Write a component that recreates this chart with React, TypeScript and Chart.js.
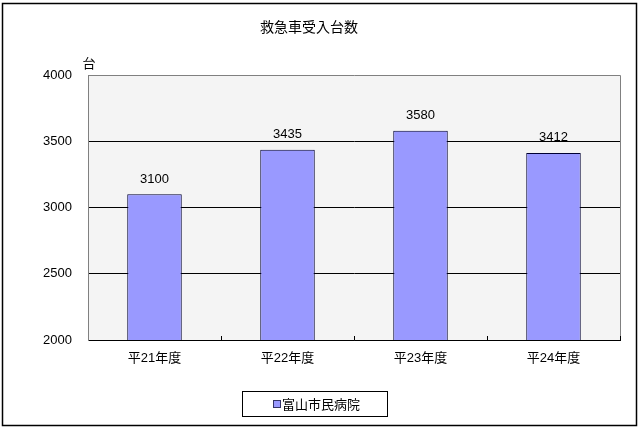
import React, { useEffect, useRef } from "react";
import { Chart, registerables } from "chart.js";

Chart.register(...registerables);

// data
const categories = ["平21年度", "平22年度", "平23年度", "平24年度"];
const seriesName = "富山市民病院";
const acceptedCounts = [3100, 3435, 3580, 3412];
const chartTitle = "救急車受入台数";
const unitLabel = "台";

const FONT = "'Liberation Sans', 'Noto Sans CJK JP', sans-serif";
const JP_FONT = "'Noto Sans CJK JP', sans-serif";
const BAR_COLOR = "#9999FF";
const PLOT_BG = "#F4F4F4";

// extra drawing that Chart.js does not do on its own (frame, plot bg, labels, legend box)
const excelLook = {
  id: "excelLook",
  beforeDraw(chart: Chart) {
    const { ctx, chartArea: a, width, height } = chart;
    ctx.save();
    ctx.fillStyle = "#fff";
    ctx.fillRect(0, 0, width, height);
    ctx.fillStyle = PLOT_BG;
    ctx.fillRect(a.left, a.top, a.right - a.left, a.bottom - a.top);
    ctx.restore();
  },
  afterDatasetsDraw(chart: Chart) {
    const { ctx, chartArea: a } = chart;
    const meta = chart.getDatasetMeta(0);
    ctx.save();

    // gray frame on top and right of the plot
    ctx.strokeStyle = "#808080";
    ctx.lineWidth = 1;
    ctx.beginPath();
    ctx.moveTo(a.left, a.top + 0.5);
    ctx.lineTo(a.right + 0.5, a.top + 0.5);
    ctx.lineTo(a.right + 0.5, a.bottom);
    ctx.stroke();

    // small inward ticks between categories
    const xs = chart.scales.x;
    const step = (a.right - a.left) / categories.length;
    ctx.strokeStyle = "#000";
    ctx.beginPath();
    for (let i = 0; i < categories.length; i++) {
      const x = Math.round(xs.getPixelForTick(i) + step / 2) + 0.5;
      ctx.moveTo(x, a.bottom - 4);
      ctx.lineTo(x, a.bottom);
    }
    ctx.stroke();

    // value labels above bars
    ctx.fillStyle = "#000";
    ctx.font = `13px ${FONT}`;
    ctx.textAlign = "center";
    ctx.textBaseline = "middle";
    meta.data.forEach((bar: any, i: number) => {
      ctx.fillText(String(acceptedCounts[i]), bar.x, bar.y - 15);
    });
    ctx.restore();
  },
  afterDraw(chart: Chart) {
    const { ctx, chartArea: a } = chart;
    ctx.save();

    // outer frame
    ctx.strokeStyle = "#000";
    ctx.lineWidth = 1.5;
    ctx.strokeRect(2.5, 3.5, 634, 422);

    // title and unit
    ctx.fillStyle = "#000";
    ctx.textAlign = "center";
    ctx.textBaseline = "middle";
    ctx.font = `14px ${JP_FONT}`;
    ctx.fillText(chartTitle, 309, 27);
    ctx.font = `13px ${JP_FONT}`;
    ctx.fillText(unitLabel, a.left + 1, 63);

    // legend box
    ctx.lineWidth = 1;
    ctx.strokeRect(242.5, 391.5, 145, 25);
    ctx.fillStyle = BAR_COLOR;
    ctx.fillRect(273, 400, 7, 7);
    ctx.strokeStyle = "#333366";
    ctx.strokeRect(273.5, 400.5, 7, 7);
    ctx.fillStyle = "#000";
    ctx.textAlign = "left";
    ctx.font = `13px ${JP_FONT}`;
    ctx.fillText(seriesName, 282, 404);
    ctx.restore();
  },
};

const App: React.FC = () => {
  const canvasRef = useRef<HTMLCanvasElement>(null);
  const chartRef = useRef<Chart | null>(null);

  useEffect(() => {
    if (!canvasRef.current) return;
    if (chartRef.current) chartRef.current.destroy();

    chartRef.current = new Chart(canvasRef.current, {
      type: "bar",
      data: {
        labels: categories,
        datasets: [
          {
            label: seriesName,
            data: acceptedCounts,
            backgroundColor: BAR_COLOR,
            borderColor: "#000033",
            borderWidth: 1,
            barPercentage: 0.41,
            categoryPercentage: 1,
          },
        ],
      },
      options: {
        responsive: false,
        animation: false,
        devicePixelRatio: 1,
        layout: { padding: { left: 0, top: 75, right: 21, bottom: 60 } },
        plugins: {
          legend: { display: false },
          title: { display: false },
          tooltip: { enabled: false },
        },
        scales: {
          x: {
            afterFit: (s: any) => { s.height = 30; },
            grid: { display: false, drawTicks: false },
            border: { color: "#000", width: 1 },
            ticks: {
              color: "#000",
              padding: 11,
              font: { family: FONT, size: 13 },
            },
          },
          y: {
            min: 2000,
            max: 4000,
            afterFit: (s: any) => { s.width = 88; },
            border: { color: "#808080", width: 1 },
            grid: {
              drawTicks: false,
              color: (c: any) => (c.tick && c.tick.value === 4000 ? "rgba(0,0,0,0)" : "#000"),
            },
            ticks: {
              stepSize: 500,
              color: "#000",
              padding: 16,
              font: { family: FONT, size: 13 },
              callback: (v: any) => String(v),
            },
          },
        },
      },
      plugins: [excelLook],
    });

    return () => {
      if (chartRef.current) {
        chartRef.current.destroy();
        chartRef.current = null;
      }
    };
  }, []);

  return (
    <div style={{ position: "absolute", left: 0, top: 0, width: 641, height: 430, background: "#fff" }}>
      <canvas ref={canvasRef} width={641} height={430} />
    </div>
  );
};

export default App;
